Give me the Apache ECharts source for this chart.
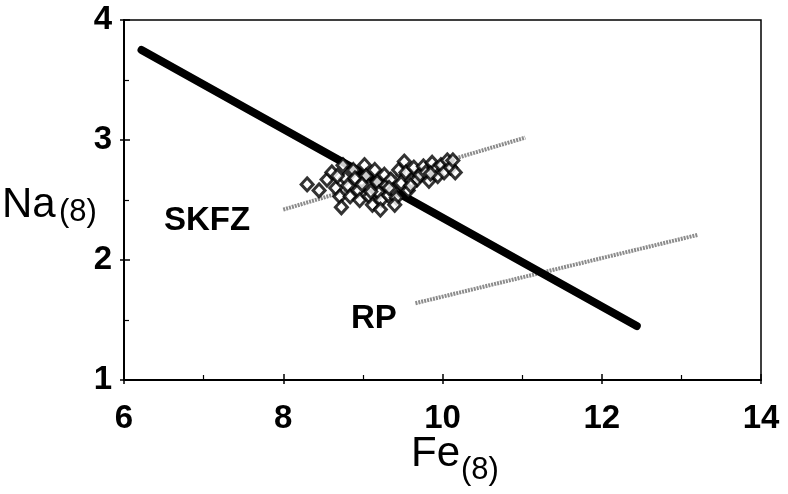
<!DOCTYPE html>
<html>
<head>
<meta charset="utf-8">
<script src="https://cdn.jsdelivr.net/npm/echarts@6/dist/echarts.min.js"></script>
<style>html,body{margin:0;padding:0;background:#fff;}#c{width:788px;height:494px;}</style>
</head>
<body>
<div id="c"></div>
<script>
// ---- data ----
const xTicks = [6, 8, 10, 12, 14];
const yTicks = [1, 2, 3, 4];
const trendFe = [6.22, 12.44];
const trendNa = [3.75, 1.45];
const skfzFe = [8.0, 11.04];
const skfzNa = [2.42, 3.02];
const rpFe = [9.66, 13.21];
const rpNa = [1.64, 2.21];
const sampleFe = [8.30,8.45,8.55,8.61,8.66,8.71,8.73,8.78,8.81,8.84,8.88,8.90,8.94,8.96,9.02,9.04,9.07,9.08,9.12,9.15,9.18,9.20,9.23,9.27,9.29,9.32,9.35,9.38,9.42,9.45,9.48,9.52,9.54,9.57,9.61,9.64,9.68,9.72,9.76,9.79,9.83,9.87,9.91,9.94,9.98,10.02,10.06,10.10,10.13,10.16,8.75,8.99,9.40,9.22,8.68,9.10,9.33,9.60,9.85];
const sampleNa = [2.63,2.58,2.67,2.73,2.60,2.53,2.44,2.68,2.62,2.53,2.75,2.68,2.58,2.50,2.79,2.70,2.61,2.53,2.46,2.75,2.65,2.56,2.50,2.71,2.62,2.54,2.67,2.58,2.52,2.75,2.64,2.82,2.73,2.58,2.66,2.77,2.67,2.71,2.78,2.73,2.66,2.81,2.75,2.70,2.79,2.73,2.83,2.77,2.83,2.73,2.79,2.63,2.46,2.42,2.70,2.57,2.60,2.62,2.72];
const labelSKFZ = 'SKFZ';
const labelRP = 'RP';

const pair = (a, b) => a.map((v, i) => [v, b[i]]);
const tickFont = { fontFamily: '"Liberation Sans", Arial, sans-serif', fontWeight: 'bold', fontSize: 33, color: '#000' };
const chart = echarts.init(document.getElementById('c'));
const common = { lineStyle: { color: '#000', width: 2 } };
chart.setOption({
  animation: false,
  backgroundColor: '#fff',
  grid: { left: 124, right: 27, top: 20, bottom: 114, show: true, borderColor: '#000', borderWidth: 1.5, backgroundColor: 'transparent' },
  xAxis: [{
    type: 'value', min: xTicks[0], max: xTicks[xTicks.length - 1], interval: 2,
    axisLine: { onZero: false, ...common },
    axisTick: { inside: true, length: 6, lineStyle: { color: '#000', width: 1.5 } },
    minorTick: { show: true, splitNumber: 2, length: 5, lineStyle: { color: '#000', width: 1.2 } },
    splitLine: { show: false },
    axisLabel: { margin: 22, ...tickFont }
  }, {
    type: 'value', position: 'bottom', offset: 0, min: xTicks[0], max: xTicks[xTicks.length - 1], interval: 2,
    axisLine: { show: false }, axisTick: { inside: false, length: 4, lineStyle: { color: '#000', width: 1.5 } },
    axisLabel: { show: false }, splitLine: { show: false }
  }],
  yAxis: [{
    type: 'value', min: yTicks[0], max: yTicks[yTicks.length - 1], interval: 1,
    axisLine: { onZero: false, ...common },
    axisTick: { inside: true, length: 6, lineStyle: { color: '#000', width: 1.5 } },
    minorTick: { show: true, splitNumber: 2, length: 5, lineStyle: { color: '#000', width: 1.2 } },
    splitLine: { show: false },
    axisLabel: { margin: 12, ...tickFont }
  }, {
    type: 'value', position: 'left', offset: 0, min: yTicks[0], max: yTicks[yTicks.length - 1], interval: 1,
    axisLine: { show: false }, axisTick: { inside: false, length: 4, lineStyle: { color: '#000', width: 1.5 } },
    axisLabel: { show: false }, splitLine: { show: false }
  }],
  series: [
    { type: 'line', data: pair(skfzFe, skfzNa), symbol: 'none', z: 2,
      lineStyle: { color: '#8c8c8c', width: 4, type: [2, 1] } },
    { type: 'line', data: pair(rpFe, rpNa), symbol: 'none', z: 2,
      lineStyle: { color: '#8c8c8c', width: 4, type: [2, 1] } },
    { type: 'line', data: pair(trendFe, trendNa), symbol: 'none', z: 3,
      lineStyle: { color: '#000', width: 8, cap: 'round' } },
    { type: 'scatter', data: pair(sampleFe, sampleNa), symbol: 'diamond', symbolSize: [12, 13], z: 4,
      itemStyle: { color: '#fff', borderColor: '#000', borderWidth: 3 } }
  ],
  graphic: [
    { type: 'text', style: { x: 2, y: 184, text: 'Na', font: '42px "Liberation Sans", Arial, sans-serif', fill: '#000', verticalAlign: 'top' } },
    { type: 'text', style: { x: 59, y: 197, text: '(8)', font: '31px "Liberation Sans", Arial, sans-serif', fill: '#000', verticalAlign: 'top' } },
    { type: 'text', style: { x: 411, y: 433, text: 'Fe', font: '42px "Liberation Sans", Arial, sans-serif', fill: '#000', verticalAlign: 'top' } },
    { type: 'text', style: { x: 461, y: 455, text: '(8)', font: '31px "Liberation Sans", Arial, sans-serif', fill: '#000', verticalAlign: 'top' } },
    { type: 'text', style: { x: 164, y: 204, text: labelSKFZ, font: 'bold 33px "Liberation Sans", Arial, sans-serif', fill: '#000', verticalAlign: 'top' } },
    { type: 'text', style: { x: 351, y: 302, text: labelRP, font: 'bold 33px "Liberation Sans", Arial, sans-serif', fill: '#000', verticalAlign: 'top' } }
  ]
});
</script>
</body>
</html>
